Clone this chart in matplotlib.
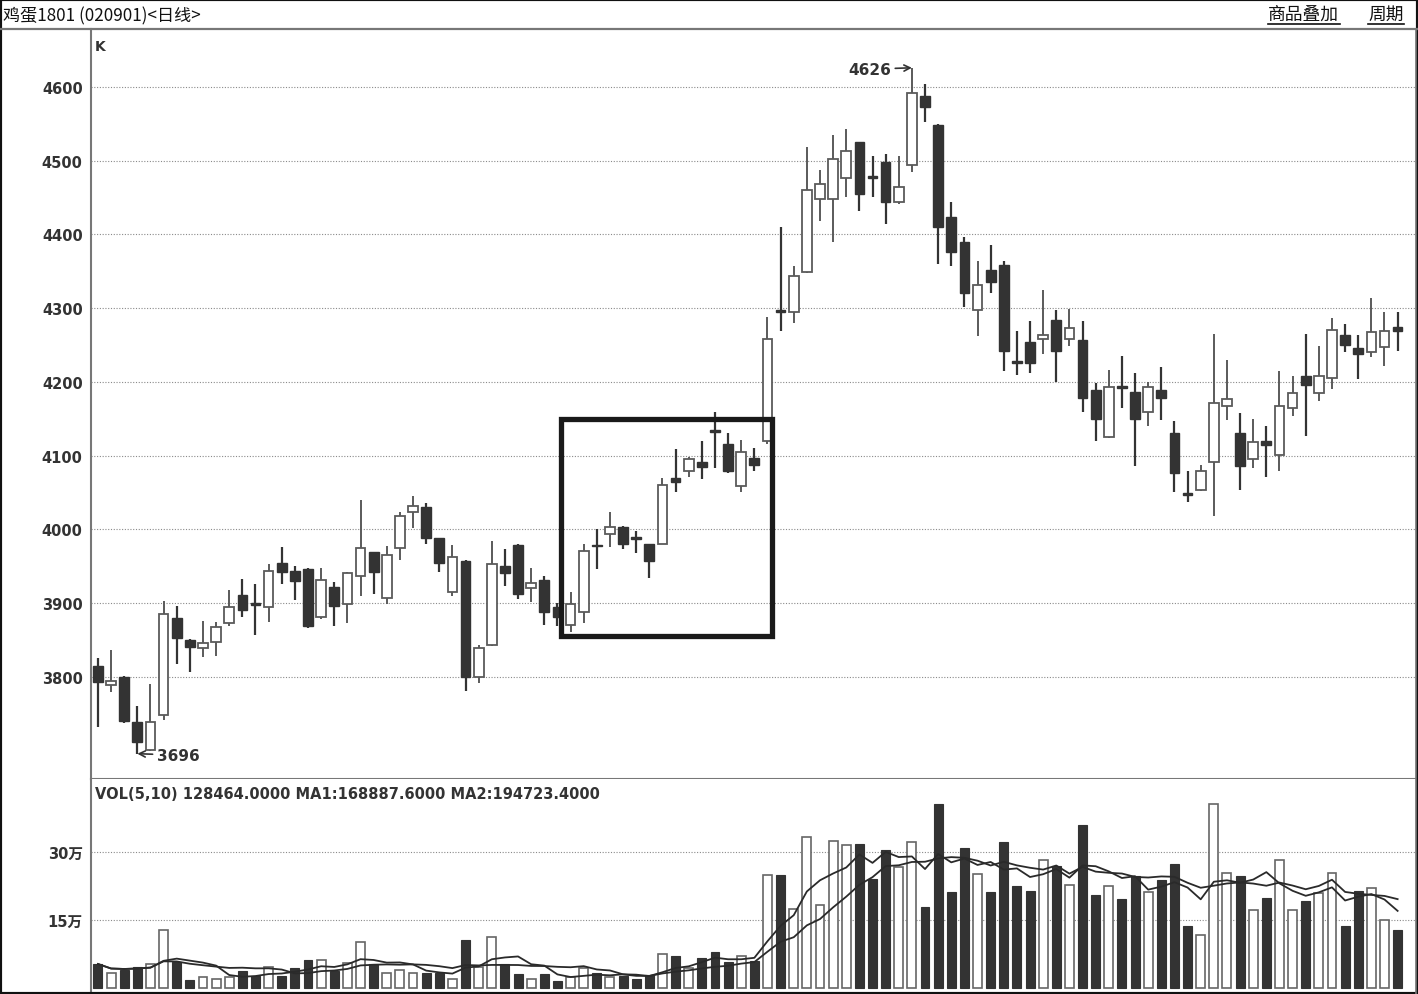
import numpy as np
import pandas as pd
import matplotlib
matplotlib.use("Agg")
import matplotlib.pyplot as plt
from matplotlib.patches import Rectangle
from matplotlib.lines import Line2D

plt.rcParams['font.family'] = ['DejaVu Sans', 'Noto Sans CJK SC']

# daily OHLC, egg futures 1801
opens = [3815, 3789, 3800, 3739, 3701, 3748, 3880, 3850, 3839, 3847,
         3873, 3911, 3900, 3895, 3954, 3944, 3946, 3881, 3922, 3899,
         3937, 3969, 3907, 3975, 4024, 4030, 3988, 3915, 3957, 3800,
         3843, 3950, 3979, 3921, 3931, 3895, 3870, 3888, 3979, 3994,
         4003, 3989, 3980, 3980, 4070, 4079, 4091, 4134, 4116, 4059,
         4097, 4120, 4297, 4295, 4349, 4448, 4448, 4477, 4525, 4479,
         4498, 4444, 4494, 4588, 4548, 4424, 4390, 4298, 4352, 4359,
         4228, 4254, 4258, 4284, 4258, 4257, 4189, 4125, 4194, 4186,
         4159, 4189, 4131, 4049, 4053, 4091, 4167, 4131, 4096, 4120,
         4101, 4165, 4208, 4185, 4205, 4264, 4246, 4241, 4247, 4275]
highs = [3826, 3837, 3801, 3761, 3790, 3903, 3896, 3851, 3876, 3874,
         3918, 3933, 3926, 3953, 3976, 3950, 3948, 3948, 3929, 3942,
         4040, 3970, 3978, 4024, 4045, 4036, 3989, 3979, 3958, 3843,
         3984, 3973, 3980, 3948, 3937, 3900, 3915, 3980, 4001, 4024,
         4005, 3998, 3981, 4070, 4109, 4098, 4120, 4159, 4131, 4121,
         4110, 4288, 4410, 4357, 4519, 4487, 4535, 4543, 4526, 4506,
         4509, 4506, 4626, 4604, 4550, 4444, 4397, 4364, 4386, 4364,
         4269, 4283, 4325, 4298, 4299, 4283, 4199, 4216, 4235, 4212,
         4200, 4220, 4147, 4079, 4087, 4265, 4230, 4158, 4150, 4140,
         4215, 4208, 4265, 4249, 4287, 4279, 4264, 4314, 4295, 4295]
lows = [3732, 3780, 3738, 3696, 3699, 3742, 3818, 3807, 3827, 3828,
        3869, 3881, 3857, 3874, 3926, 3904, 3866, 3879, 3869, 3873,
        3910, 3912, 3899, 3959, 4002, 3980, 3942, 3910, 3781, 3792,
        3842, 3923, 3906, 3902, 3870, 3869, 3861, 3873, 3946, 3976,
        3973, 3968, 3934, 3980, 4051, 4071, 4068, 4083, 4077, 4051,
        4079, 4116, 4269, 4280, 4348, 4418, 4390, 4451, 4432, 4451,
        4414, 4441, 4485, 4553, 4360, 4357, 4302, 4262, 4321, 4215,
        4209, 4212, 4238, 4200, 4249, 4159, 4120, 4124, 4165, 4086,
        4140, 4148, 4051, 4037, 4052, 4018, 4148, 4053, 4083, 4071,
        4079, 4154, 4127, 4174, 4190, 4241, 4204, 4234, 4222, 4242]
closes = [3793, 3795, 3740, 3712, 3739, 3885, 3853, 3841, 3846, 3868,
          3895, 3891, 3897, 3944, 3942, 3930, 3869, 3931, 3896, 3941,
          3975, 3942, 3965, 4018, 4032, 3988, 3954, 3963, 3800, 3839,
          3953, 3941, 3912, 3927, 3888, 3881, 3899, 3971, 3977, 4003,
          3980, 3987, 3957, 4060, 4064, 4096, 4085, 4132, 4079, 4105,
          4087, 4258, 4295, 4344, 4460, 4468, 4502, 4513, 4455, 4477,
          4444, 4464, 4592, 4573, 4410, 4376, 4321, 4332, 4336, 4242,
          4226, 4226, 4264, 4242, 4273, 4178, 4150, 4193, 4192, 4150,
          4193, 4178, 4077, 4047, 4079, 4171, 4177, 4086, 4119, 4115,
          4167, 4185, 4196, 4208, 4270, 4250, 4238, 4268, 4269, 4269]
# volume in 万 lots
vols = [5.3, 3.3, 4.0, 4.6, 5.3, 12.8, 5.7, 1.8, 2.4, 2.0,
        2.4, 3.8, 2.6, 4.6, 2.6, 4.4, 6.2, 6.2, 3.8, 5.5,
        10.1, 5.3, 3.3, 4.0, 3.3, 3.3, 3.3, 2.0, 10.6, 4.6,
        11.2, 5.3, 3.1, 2.0, 3.1, 1.5, 2.4, 4.4, 3.3, 2.4,
        2.6, 2.0, 2.9, 7.5, 7.1, 4.4, 6.6, 7.9, 5.7, 7.1,
        6.0, 24.9, 24.9, 17.4, 33.3, 18.3, 32.4, 31.5, 31.8, 24.0,
        30.4, 26.7, 32.2, 17.9, 40.6, 21.2, 30.9, 25.1, 21.2, 32.2,
        22.5, 21.4, 28.2, 26.9, 22.7, 36.0, 20.5, 22.5, 19.6, 24.7,
        21.2, 23.8, 27.4, 13.7, 11.7, 40.6, 25.4, 24.7, 17.2, 19.9,
        28.2, 17.2, 19.2, 21.0, 25.4, 13.7, 21.4, 22.1, 15.0, 12.85]

price_ticks = [3800, 3900, 4000, 4100, 4200, 4300, 4400, 4500, 4600]
vol_ticks = [15, 30]
vol_labels = ["15万", "30万"]

O = np.array(opens); Hh = np.array(highs); L = np.array(lows); C = np.array(closes)
V = np.array(vols)
x = np.arange(len(O))
up = C >= O
ma5 = pd.Series(V).rolling(5, min_periods=1).mean()
ma10 = pd.Series(V).rolling(10, min_periods=1).mean()

W, H = 1418, 995
fig = plt.figure(figsize=(W / 100, H / 100), dpi=100)
fig.patch.set_facecolor('white')

def fax(l, t, r, b):
    return [l / W, 1 - b / H, (r - l) / W, (b - t) / H]

dark = '#333333'
hol = '#5a5a5a'
gridc = '#8a8a8a'

# ---- price panel
ax = fig.add_axes(fax(91, 30, 1416, 780))
ax.set_xlim(-0.53, 100.4)
ax.set_ylim(3661.7, 4678.6)
for yv in price_ticks:
    ax.axhline(yv, color=gridc, lw=0.8, ls=(0, (1, 1.5)), zorder=0)

ax.vlines(x[~up], L[~up], Hh[~up], color=dark, lw=1.6, zorder=1)
ax.vlines(x[up], L[up], Hh[up], color=hol, lw=1.4, zorder=1)
bw = 0.74
hgt = np.maximum(np.abs(C - O), 2.5)
ax.bar(x[~up], hgt[~up], bottom=np.minimum(O, C)[~up], width=bw,
       color=dark, edgecolor=dark, lw=1.0, zorder=2)
ax.bar(x[up], hgt[up], bottom=np.minimum(O, C)[up], width=bw,
       color='white', edgecolor=hol, lw=1.3, zorder=2)

ax.set_yticks(price_ticks)
ax.set_yticklabels([str(t) for t in price_ticks], fontsize=10.5,
                   fontweight='bold', color=dark)
ax.tick_params(axis='y', length=0, pad=6)
ax.set_xticks([])
for s in ['top', 'right']:
    ax.spines[s].set_visible(False)
ax.spines['left'].set_color('#777777')
ax.spines['left'].set_linewidth(1.5)
ax.spines['bottom'].set_color('#777777')
ax.spines['bottom'].set_linewidth(1.5)

ax.text(0.003, 0.987, 'K', transform=ax.transAxes, fontsize=10,
        fontweight='bold', color=dark, va='top', ha='left')

# high / low markers
ih = int(np.argmax(Hh)); il = int(np.argmin(L))
ax.annotate(str(Hh[ih]), xy=(ih, Hh[ih]), xytext=(-15, -1),
            textcoords='offset points', ha='right', va='center',
            fontsize=11, fontweight='bold', color=dark,
            arrowprops=dict(arrowstyle='->', color=dark, lw=1.2,
                            shrinkA=1, shrinkB=0))
ax.annotate(str(L[il]), xy=(il, L[il]), xytext=(14, -1),
            textcoords='offset points', ha='left', va='center',
            fontsize=11, fontweight='bold', color=dark,
            arrowprops=dict(arrowstyle='->', color=dark, lw=1.2,
                            shrinkA=1, shrinkB=0))

# highlight box around the consolidation
box_i0, box_i1 = 35.3, 51.33
box_lo, box_hi = 3856, 4150
ax.add_patch(Rectangle((box_i0, box_lo), box_i1 - box_i0, box_hi - box_lo,
                       fill=False, edgecolor='#1a1a1a', lw=3.8, zorder=5))

# ---- volume panel
av = fig.add_axes(fax(91, 780, 1416, 992))
av.set_xlim(-0.53, 100.4)
av.set_ylim(-0.66, 46.1)
for yv in vol_ticks:
    av.axhline(yv, color=gridc, lw=0.8, ls=(0, (1, 1.5)), zorder=0)
vw = 0.68
av.bar(x[~up], V[~up], width=vw, color=dark, edgecolor=dark, lw=0.8, zorder=2)
av.bar(x[up], V[up], width=vw, color='white', edgecolor='#666666', lw=1.2, zorder=2)
av.plot(x, ma5, color='#2a2a2a', lw=1.3, zorder=3)
av.plot(x, ma10, color='#2a2a2a', lw=1.3, zorder=3)
av.set_yticks(vol_ticks)
av.set_yticklabels(vol_labels, fontsize=10.5, fontweight='bold', color=dark)
av.tick_params(axis='y', length=0, pad=6)
av.set_xticks([])
for s in ['top', 'right', 'bottom']:
    av.spines[s].set_visible(False)
av.spines['left'].set_color('#777777')
av.spines['left'].set_linewidth(1.5)
av.text(0.003, 0.968,
        'VOL(5,10) %.4f MA1:%.4f MA2:%.4f' % (128464, 168887.6, 194723.4),
        transform=av.transAxes, fontsize=10.5, fontweight='bold',
        color=dark, va='top', ha='left')

# ---- header and frame
fig.text(3 / W, 1 - 16 / H, '鸡蛋1801 (020901)<日线>', fontsize=12.3,
         family=['Noto Sans CJK SC', 'DejaVu Sans'], color='#111111',
         va='center', ha='left')
fig.text(1268 / W, 1 - 15 / H, '商品叠加', fontsize=12.8,
         family=['Noto Sans CJK SC'], color='#111111', va='center', ha='left')
fig.text(1368 / W, 1 - 15 / H, '周期', fontsize=12.8,
         family=['Noto Sans CJK SC'], color='#111111', va='center', ha='left')
for a, b in [(1268, 1340), (1368, 1404)]:
    fig.add_artist(Line2D([a / W, b / W], [1 - 25 / H, 1 - 25 / H],
                          color='#111111', lw=1.2))
fig.add_artist(Line2D([0, 1], [1 - 29.5 / H, 1 - 29.5 / H], color='#777777', lw=1.6))
fig.add_artist(Line2D([1416 / W, 1416 / W], [0, 1 - 29.5 / H], color='#777777', lw=1.2))
fig.add_artist(Rectangle((0, 0), 1, 1, transform=fig.transFigure, fill=False,
                         edgecolor='#111111', lw=3))

fig.savefig('out.png', dpi=100)
